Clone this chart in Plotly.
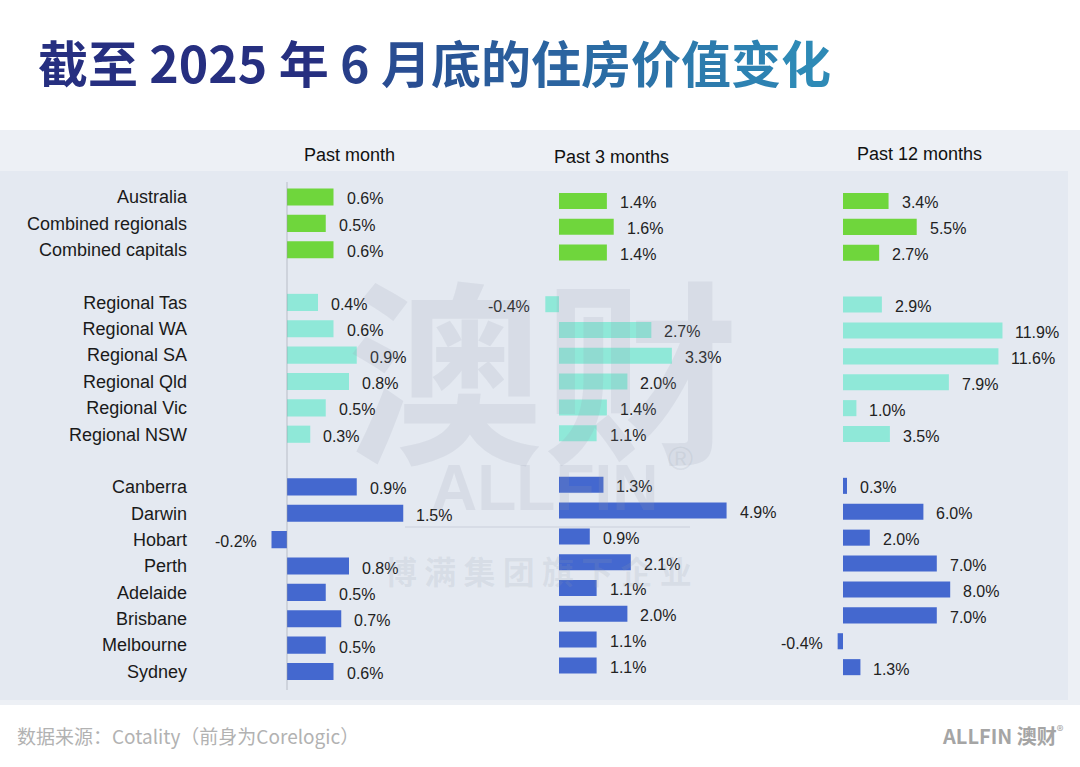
import plotly.graph_objects as go

# ---------------- data ----------------
categories = ["Australia", "Combined regionals", "Combined capitals", " ",
              "Regional Tas", "Regional WA", "Regional SA", "Regional Qld",
              "Regional Vic", "Regional NSW", "  ",
              "Canberra", "Darwin", "Hobart", "Perth", "Adelaide",
              "Brisbane", "Melbourne", "Sydney"]
groups = ["national"] * 3 + [None] + ["regional"] * 6 + [None] + ["capital"] * 8
past_month = [0.6, 0.5, 0.6, None, 0.4, 0.6, 0.9, 0.8, 0.5, 0.3, None,
              0.9, 1.5, -0.2, 0.8, 0.5, 0.7, 0.5, 0.6]
past_3_months = [1.4, 1.6, 1.4, None, -0.4, 2.7, 3.3, 2.0, 1.4, 1.1, None,
                 1.3, 4.9, 0.9, 2.1, 1.1, 2.0, 1.1, 1.1]
past_12_months = [3.4, 5.5, 2.7, None, 2.9, 11.9, 11.6, 7.9, 1.0, 3.5, None,
                  0.3, 6.0, 2.0, 7.0, 8.0, 7.0, -0.4, 1.3]
column_titles = ["Past month", "Past 3 months", "Past 12 months"]
title_text = "截至 2025 年 6 月底的住房价值变化"
source_text = "数据来源：Cotality（前身为Corelogic）"

# ---------------- styling ----------------
W, H = 1080, 767
group_colors = {"national": "#6fd63c", "regional": "#8fe8d8", "capital": "#4468cf"}
LATIN = "Liberation Sans, Arial, sans-serif"
CJK = "Noto Sans CJK SC, sans-serif"


def px_x(p):
    return p / W


def px_y(p):
    return 1 - p / H


# per column layout: zero pixel, px per %, domain px, row top px, row pitch, bar width, header pos
cols = [
    dict(vals=past_month, zero=287, scale=77.5, dom=(194, 472), top=183.8, pitch=26.36, bw=0.65, head=(349, 155)),
    dict(vals=past_3_months, zero=559, scale=34.2, dom=(478, 772), top=188.1, pitch=25.8, bw=0.62, head=(611, 157)),
    dict(vals=past_12_months, zero=843, scale=13.4, dom=(778, 1070), top=188.0, pitch=25.9, bw=0.62, head=(919, 154)),
]

fig = go.Figure()
annotations = []
shapes = []

# panel backgrounds
shapes.append(dict(type="rect", xref="paper", yref="paper", x0=0, x1=1,
                   y0=px_y(705), y1=px_y(130), fillcolor="#edf0f5", line_width=0, layer="below"))
shapes.append(dict(type="rect", xref="paper", yref="paper", x0=0, x1=px_x(1068),
                   y0=px_y(700), y1=px_y(171), fillcolor="#e4e9f1", line_width=0, layer="below"))

n = len(categories)
for i, c in enumerate(cols, start=1):
    xa = "x" if i == 1 else f"x{i}"
    ya = "y" if i == 1 else f"y{i}"
    colors = [group_colors.get(g, "rgba(0,0,0,0)") for g in groups]
    fig.add_trace(go.Bar(
        x=c["vals"], y=categories, orientation="h", marker_color=colors,
        marker_line_width=0, width=c["bw"], xaxis=xa, yaxis=ya,
        showlegend=False, hoverinfo="skip"))
    a, b = c["dom"]
    xr = [(a - c["zero"]) / c["scale"], (b - c["zero"]) / c["scale"]]
    top = c["top"]
    bottom = top + n * c["pitch"]
    xkey = "xaxis" if i == 1 else f"xaxis{i}"
    ykey = "yaxis" if i == 1 else f"yaxis{i}"
    fig.update_layout(**{
        xkey: dict(domain=[px_x(a), px_x(b)], range=xr, visible=False, anchor=ya,
                   showgrid=False, zeroline=False, fixedrange=True),
        ykey: dict(domain=[px_y(bottom), px_y(top)], type="category",
                   categoryorder="array", categoryarray=categories,
                   range=[n - 0.5, -0.5], anchor=xa, showgrid=False, zeroline=False,
                   showline=False, ticks="", showticklabels=(i == 1),
                   tickfont=dict(family=LATIN, size=18, color="#1a1a1a"),
                   ticklabelstandoff=6, fixedrange=True),
    })
    for cat, v in zip(categories, c["vals"]):
        if v is None:
            continue
        annotations.append(dict(
            x=v, y=cat, xref=xa, yref=ya, text=f"{v:.1f}%", showarrow=False,
            xanchor="left" if v >= 0 else "right", xshift=11 if v >= 0 else -13,
            yshift=-2, font=dict(family=LATIN, size=16, color="#222222")))
    hx, hy = c["head"]
    annotations.append(dict(x=px_x(hx), y=px_y(hy), xref="paper", yref="paper",
                            text=column_titles[i - 1], showarrow=False,
                            xanchor="center", yanchor="middle",
                            font=dict(family=LATIN, size=18, color="#111111")))

# zero line of first column
shapes.append(dict(type="line", xref="x", yref="paper", x0=0, x1=0,
                   y0=px_y(690), y1=px_y(182), line=dict(color="rgba(150,155,165,0.55)", width=1)))


# title with gradient colour
def lerp(c1, c2, t):
    return "#" + "".join(f"{round(c1[k] + (c2[k] - c1[k]) * t):02x}" for k in range(3))


navy = (0x26, 0x2f, 0x80)
teal = (0x2e, 0x8a, 0xb6)
chars = list(title_text)
parts = []
for k, ch in enumerate(chars):
    t = k / (len(chars) - 1)
    tt = max(0.0, (t - 0.4) / 0.6)
    parts.append(f"<span style='color:{lerp(navy, teal, tt)}'>{ch}</span>")
annotations.append(dict(x=px_x(36), y=px_y(61), xref="paper", yref="paper",
                        text="<b>" + "".join(parts) + "</b>", showarrow=False,
                        xanchor="left", yanchor="middle",
                        font=dict(family=CJK, size=50, color="#262f80")))

# watermark
wm = "rgba(150,158,172,0.16)"
annotations.append(dict(x=px_x(543), y=px_y(362), xref="paper", yref="paper",
                        text="<b>澳财</b>", showarrow=False, xanchor="center", yanchor="middle",
                        font=dict(family=CJK, size=196, color=wm)))
annotations.append(dict(x=px_x(545), y=px_y(488), xref="paper", yref="paper",
                        text="<b>ALLFIN</b>", showarrow=False, xanchor="center", yanchor="middle",
                        font=dict(family=LATIN, size=64, color=wm)))
annotations.append(dict(x=px_x(680), y=px_y(458), xref="paper", yref="paper",
                        text="®", showarrow=False, xanchor="center", yanchor="middle",
                        font=dict(family=LATIN, size=34, color=wm)))
annotations.append(dict(x=px_x(538), y=px_y(570), xref="paper", yref="paper",
                        text="<b>博 满 集 团 旗 下 企 业</b>", showarrow=False,
                        xanchor="center", yanchor="middle",
                        font=dict(family=CJK, size=32, color=wm)))
shapes.append(dict(type="line", xref="paper", yref="paper", x0=px_x(405), x1=px_x(690),
                   y0=px_y(527), y1=px_y(527), line=dict(color=wm, width=2)))

# footer
annotations.append(dict(x=px_x(15), y=px_y(735), xref="paper", yref="paper",
                        text=source_text, showarrow=False, xanchor="left", yanchor="middle",
                        font=dict(family=CJK, size=19, color="#b2b2b2")))
annotations.append(dict(x=px_x(1066), y=px_y(735), xref="paper", yref="paper",
                        text="<b>ALLFIN 澳财</b><sup>®</sup>", showarrow=False,
                        xanchor="right", yanchor="middle",
                        font=dict(family=CJK, size=20, color="#a5a5a5")))

fig.update_layout(
    width=W, height=H, margin=dict(l=0, r=0, t=0, b=0),
    paper_bgcolor="white", plot_bgcolor="rgba(0,0,0,0)",
    barmode="overlay", annotations=annotations, shapes=shapes,
    showlegend=False,
)

fig.write_html("out.html", config={"displayModeBar": False},
               post_script="document.body.style.margin='0';document.body.style.overflow='hidden';")
